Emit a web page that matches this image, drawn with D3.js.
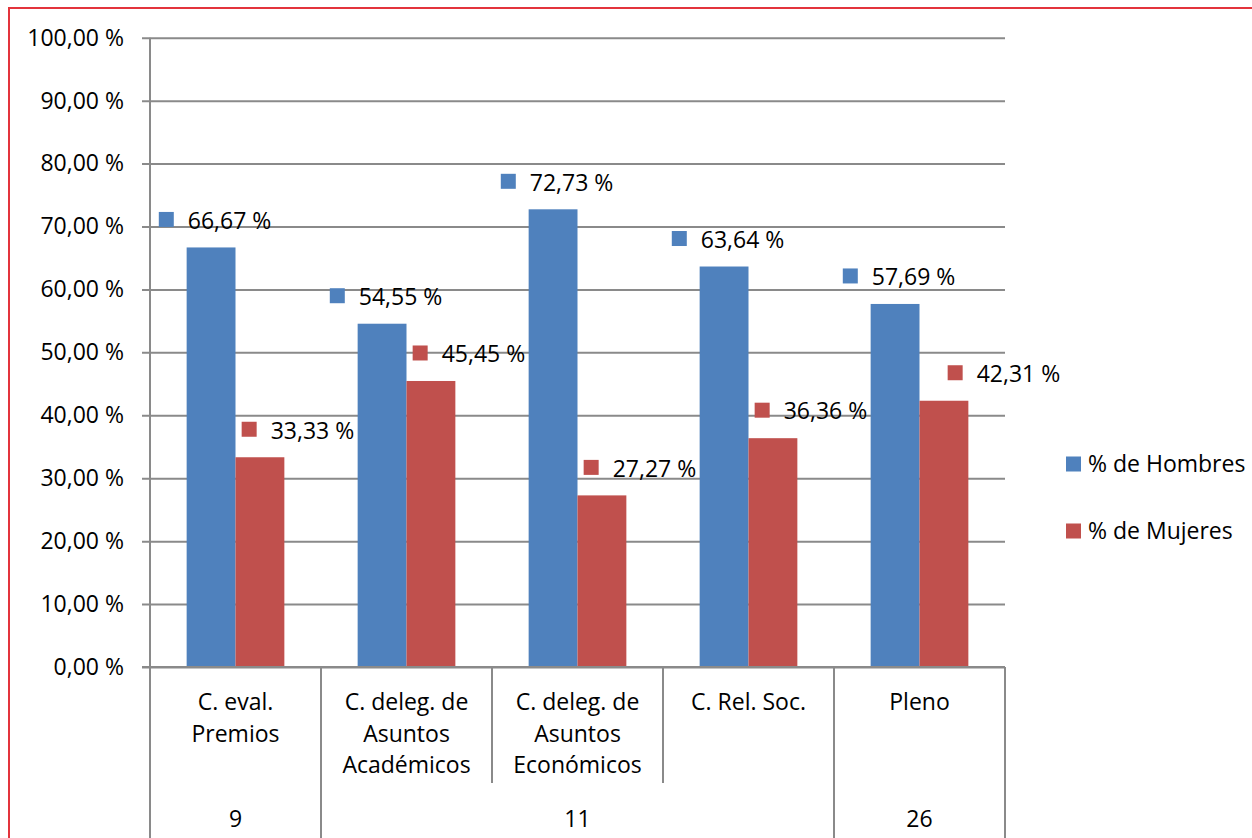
<!DOCTYPE html>
<html lang="es">
<head>
<meta charset="UTF-8">
<title>Hombres y mujeres por comisión</title>
<script src="https://d3js.org/d3.v7.min.js"></script>
<style>
  body { margin: 0; background: #fff; }
  svg text { font-family: "Open Sans", "Noto Sans", sans-serif; fill: #000; }
</style>
</head>
<body>
<svg id="chart" width="1252" height="838"></svg>
<script>
// data
const categories = ["C. eval. Premios", "C. deleg. de Asuntos Académicos",
                    "C. deleg. de Asuntos Económicos", "C. Rel. Soc.", "Pleno"];
const groupLabels = ["9", "11", "11", "11", "26"];   // second level of the axis
const series = ["% de Hombres", "% de Mujeres"];
const hombres = [66.67, 54.55, 72.73, 63.64, 57.69];
const mujeres = [33.33, 45.45, 27.27, 36.36, 42.31];
const yTicks = [0, 10, 20, 30, 40, 50, 60, 70, 80, 90, 100];

const colors = ["#4F81BD", "#C0504D"];
const gridColor = "#8a8a8a";
// label nudges (x) per series, and an extra one for the last red label
const labelDx = [4, 38];
const extraDx = [[0, 0, 0, 0, 0], [0, 0, 0, 0, 22]];

const es = d3.formatLocale({ decimal: ",", thousands: ".", grouping: [3], currency: ["", " €"] });
const pct = v => es.format(".2f")(v) + " %";

const svg = d3.select("#chart");
const pLeft = 150, pRight = 1005, pTop = 37.7, pBottom = 667;
const fs = 23;

// red frame around the chart area
svg.append("rect")
  .attr("x", 9).attr("y", 8).attr("width", 1300).attr("height", 900)
  .attr("fill", "none").attr("stroke", "#e3343c").attr("stroke-width", 2);

const x = d3.scaleBand().domain(categories).range([pLeft, pRight]);
const bw = x.bandwidth() / 3.5;                  // gap width 150 %
const x1 = d3.scaleBand().domain(series).range([0.75 * bw, 2.75 * bw]);
const y = d3.scaleLinear().domain([0, 100]).range([pBottom, pTop]);

// gridlines + y labels
const yAxis = d3.axisLeft(y).tickValues(yTicks).tickSize(pRight - pLeft + 8)
  .tickFormat(pct).tickPadding(18);
const gy = svg.append("g").attr("transform", `translate(${pRight},0)`).call(yAxis);
gy.select(".domain").remove();
gy.selectAll(".tick line").attr("stroke", gridColor).attr("stroke-width", 2);
gy.selectAll(".tick text").attr("font-size", fs).attr("fill", "#000")
  .attr("font-family", "Open Sans");

// vertical axis line, continuing through the category rows
svg.append("line").attr("x1", pLeft).attr("x2", pLeft).attr("y1", pTop).attr("y2", 838)
  .attr("stroke", gridColor).attr("stroke-width", 2);

// bars
const rows = categories.map((c, i) => ({ cat: c, vals: [hombres[i], mujeres[i]], i }));
const cg = svg.append("g").selectAll("g").data(rows).join("g")
  .attr("transform", d => `translate(${x(d.cat)},0)`);

cg.selectAll("rect").data(d => d.vals.map((v, s) => ({ v, s, i: d.i }))).join("rect")
  .attr("x", d => x1(series[d.s]))
  .attr("y", d => y(d.v))
  .attr("width", x1.bandwidth())
  .attr("height", d => pBottom - y(d.v))
  .attr("fill", d => colors[d.s]);

// redraw the 0 line over the bars' bottom edge
svg.append("line").attr("x1", pLeft - 8).attr("x2", pRight).attr("y1", pBottom).attr("y2", pBottom)
  .attr("stroke", gridColor).attr("stroke-width", 2);

// data labels with legend key
const lab = cg.selectAll("g.lab").data(d => d.vals.map((v, s) => ({ v, s, i: d.i }))).join("g")
  .attr("class", "lab");
lab.append("text")
  .attr("font-size", fs).attr("dy", "0.36em")
  .text(d => pct(d.v));
lab.each(function (d) {
  const g = d3.select(this);
  const tw = g.select("text").node().getComputedTextLength();
  const total = 15 + 14 + tw;
  const cx = x1(series[d.s]) + x1.bandwidth() / 2 + labelDx[d.s] + extraDx[d.s][d.i];
  const x0 = cx - total / 2;
  const cy = y(d.v) - 27;
  g.select("text").attr("x", x0 + 29).attr("y", cy);
  g.insert("rect", "text").attr("x", x0).attr("y", cy - 8.5).attr("width", 15).attr("height", 15)
    .attr("fill", colors[d.s]);
});

// category labels (first level)
function wrap(text, width) {
  text.each(function () {
    const t = d3.select(this);
    const words = t.text().split(/\s+/);
    t.text(null);
    let line = [];
    let ts = t.append("tspan").attr("x", t.attr("x")).attr("dy", 0);
    words.forEach(w => {
      line.push(w);
      ts.text(line.join(" "));
      if (ts.node().getComputedTextLength() > width && line.length > 1) {
        line.pop();
        ts.text(line.join(" "));
        line = [w];
        ts = t.append("tspan").attr("x", t.attr("x")).attr("dy", 31.7).text(w);
      }
    });
  });
}

svg.append("g").selectAll("text").data(categories).join("text")
  .attr("x", d => x(d) + x.bandwidth() / 2)
  .attr("y", 710)
  .attr("text-anchor", "middle")
  .attr("font-size", fs)
  .text(d => d)
  .call(wrap, 155);

// second level: groups of consecutive equal labels
const groups = [];
groupLabels.forEach((g, i) => {
  const last = groups[groups.length - 1];
  if (last && last.label === g) last.end = i;
  else groups.push({ label: g, start: i, end: i });
});

// dividers between categories
categories.forEach((c, i) => {
  if (i === 0) return;
  const startsGroup = groups.some(g => g.start === i);
  svg.append("line")
    .attr("x1", x(c)).attr("x2", x(c))
    .attr("y1", pBottom).attr("y2", startsGroup ? 838 : 783)
    .attr("stroke", gridColor).attr("stroke-width", 2);
});
svg.append("line").attr("x1", pRight).attr("x2", pRight).attr("y1", pBottom).attr("y2", 838)
  .attr("stroke", gridColor).attr("stroke-width", 2);

svg.append("g").selectAll("text").data(groups).join("text")
  .attr("x", d => (x(categories[d.start]) + x(categories[d.end]) + x.bandwidth()) / 2)
  .attr("y", 827)
  .attr("text-anchor", "middle")
  .attr("font-size", fs)
  .text(d => d.label);

// legend
const leg = svg.append("g").selectAll("g").data(series).join("g")
  .attr("transform", (d, i) => `translate(1066,${464 + i * 67})`);
leg.append("rect").attr("x", 0).attr("y", -7.5).attr("width", 15).attr("height", 15)
  .attr("fill", (d, i) => colors[i]);
leg.append("text").attr("x", 22).attr("dy", "0.36em").attr("font-size", fs).text(d => d);
</script>
</body>
</html>
